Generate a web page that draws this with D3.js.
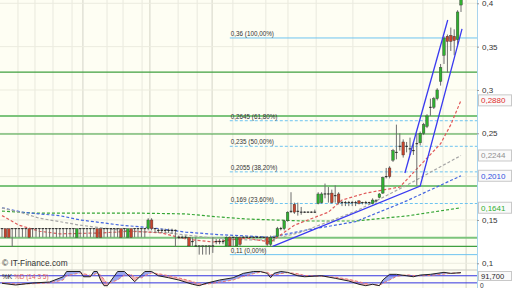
<!DOCTYPE html>
<html lang="fr">
<head>
<meta charset="utf-8">
<script src="https://cdn.jsdelivr.net/npm/d3@7"></script>
<style>
  body { margin: 0; background: #ffffff; }
  svg { display: block; font-family: "Liberation Sans", Arial, sans-serif; }
</style>
</head>
<body>
<div id="chart"></div>
<script>
// daily candles (index = session)
const open = [
  .14,.14,.14,.14,.14,.14,.14,.14,.14,.14,
  .14,.14,.14,.14,.14,.14,.14,.14,.14,.14,
  .14,.14,.13,.14,.14,.14,.14,.14,.14,.14,
  .14,.14,.14,.14,.14,.14,.14,.13,.14,.14,
  .14,.14,.14,.14,.15,.14,.138,.138,.138,.138,
  .138,.138,.13,.13,.13,.13,.125,.12,.12,.12,
  .12,.12,.12,.125,.125,.125,.12,.13,.13,.12,
  .13,.13,.13,.13,.13,.13,.13,.13,.13,.122,
  .13,.131,.14,.14,.149,.16,.168,.16,.159,.159,
  .159,.159,.159,.169,.17,.18,.18,.181,.178,.18,
  .17,.17,.17,.17,.17,.172,.17,.17,.17,.169,
  .172,.176,.181,.2,.21,.219,.228,.235,.24,.235,
  .232,.23,.238,.239,.25,.258,.28,.28,.29,.31,
  .34,.362,.363,.362,.358,.398
];
const close = [
  .14,.13,.13,.14,.14,.14,.14,.14,.13,.14,
  .14,.14,.14,.14,.14,.14,.14,.14,.14,.14,
  .14,.14,.14,.14,.14,.14,.14,.14,.13,.13,
  .14,.14,.14,.14,.14,.13,.14,.14,.13,.14,
  .14,.14,.14,.15,.14,.14,.138,.138,.138,.138,
  .138,.138,.13,.13,.13,.12,.125,.12,.12,.12,
  .12,.12,.12,.125,.125,.125,.13,.12,.13,.13,
  .122,.13,.13,.13,.13,.13,.13,.13,.122,.13,
  .13,.14,.14,.149,.159,.16,.159,.16,.159,.159,
  .159,.159,.159,.18,.18,.18,.18,.17,.178,.17,
  .17,.17,.17,.17,.17,.169,.17,.17,.17,.173,
  .172,.18,.199,.2,.2,.23,.228,.235,.225,.235,
  .232,.23,.238,.25,.26,.27,.28,.29,.30,.326,
  .36,.356,.356,.357,.39,.41
];
const high = [
  .14,.14,.14,.14,.14,.14,.14,.14,.14,.14,
  .14,.14,.14,.14,.14,.14,.14,.14,.14,.14,
  .14,.14,.14,.14,.14,.14,.14,.14,.14,.14,
  .14,.14,.14,.14,.14,.14,.14,.14,.14,.14,
  .14,.14,.14,.152,.152,.14,.14,.14,.14,.14,
  .14,.139,.132,.132,.132,.13,.13,.13,.12,.12,
  .12,.12,.13,.128,.128,.128,.131,.131,.13,.131,
  .131,.131,.131,.131,.131,.131,.131,.131,.131,.132,
  .132,.142,.142,.15,.16,.182,.17,.17,.165,.16,
  .16,.16,.162,.182,.182,.192,.188,.185,.19,.182,
  .172,.172,.172,.172,.172,.173,.171,.172,.171,.175,
  .174,.181,.2,.21,.212,.232,.26,.25,.243,.24,
  .245,.24,.25,.252,.262,.272,.29,.292,.302,.33,
  .362,.364,.372,.37,.392,.415
];
const low = [
  .13,.13,.13,.119,.13,.13,.13,.13,.13,.13,
  .13,.13,.13,.13,.13,.13,.13,.13,.13,.13,
  .13,.13,.13,.13,.13,.13,.13,.13,.13,.13,
  .13,.13,.13,.13,.13,.13,.13,.13,.13,.13,
  .13,.13,.13,.138,.138,.135,.135,.135,.135,.135,
  .134,.119,.128,.128,.128,.119,.12,.119,.11,.11,
  .11,.11,.112,.122,.122,.122,.12,.119,.12,.12,
  .12,.129,.129,.129,.129,.129,.129,.129,.12,.12,
  .125,.13,.138,.138,.148,.158,.157,.155,.156,.158,
  .158,.158,.158,.168,.169,.175,.17,.169,.17,.168,
  .166,.166,.166,.166,.166,.168,.168,.168,.168,.168,
  .17,.175,.18,.198,.198,.217,.22,.23,.222,.228,
  .225,.225,.19,.236,.248,.256,.27,.278,.288,.305,
  .33,.32,.345,.34,.352,.39
];

// moving averages (sparse points: session index / value)
const maRedIdx = [0,5,11,17,29,38,47,54,62,67,72,79,86,96,100,107,117,123,129,132,135];
const maRedVal = [.155,.144,.137,.134,.135,.137,.135,.128,.1246,.127,.129,.1246,.144,.159,.173,.181,.188,.213,.238,.26,.288];
const maGreyIdx = [0,6,11,17,23,29,35,49,60,72,79,88,104,119,135];
const maGreyVal = [.164,.158,.152,.148,.144,.141,.138,.135,.13,.127,.127,.136,.16,.19,.2244];
const maBlueIdx = [0,6,11,17,23,29,35,44,54,64,72,79,89,104,119,135];
const maBlueVal = [.164,.159,.157,.155,.15,.147,.144,.141,.136,.133,.1315,.13,.138,.148,.172,.201];
const maGreenIdx = [0,9,19,38,54,64,72,89,104,119,135];
const maGreenVal = [.1603,.158,.158,.158,.157,.1534,.1511,.1488,.1488,.1546,.1641];

// horizontal supports / resistances
const supports = [.3207, .27, .2492, .1892, .1295, .1196];
const supportWide = [false, true, false, true, true, false];

// fibonacci retracement
const fibVals = [.36, .2645, .235, .2055, .169, .11];
const fibLabels = ["0,36 (100,00%)", "0,2645 (61,80%)", "0,235 (50,00%)", "0,2055 (38,20%)", "0,169 (23,60%)", "0,11 (0,00%)"];
const fibStart = 67;

// trend lines
const trendAIdx = [79.6, 123, 135.3];
const trendAVal = [.1196, .1892, .3705];
const trendBIdx = [118.5, 131.1];
const trendBVal = [.2042, .3807];

// price tags on the right axis
const tagVals = [.288, .2244, .201, .1641];
const tagColors = ["#e03030", "#909090", "#3050e0", "#30b030"];
const yTicks = [.4, .35, .3, .25, .15, .1];

// vertical grid (session index), major ones darker
const gridIdx = [4.7, 9.7, 15, 20.6, 23.8, 30.9, 35.6, 41.2, 43.5, 51.8, 57.4, 61.8, 67.9, 77.6, 84.1, 92.4, 103.2, 113.8, 123.8, 129.7, 136.5];
const gridMajor = [23.8, 43.5, 61.8, 136.5];

// stochastic %K %D (14 3 5)
const stoIdx = [0,4,9,14,18,19,23,24,26,27,28,29,30,31,34,36,38,39,41,42,44,46,49,52,56,58,60,64,68,71,74,76,78,79,80,82,84,87,89,94,98,102,105,107,109,111,112,114,116,119,121,123,126,130,132,135];
const stoK = [17,5,19,26,63,100,100,63,63,100,100,40,0,0,100,100,54,28,75,100,100,70,56,40,10,0,17,40,56,87,100,100,87,56,87,100,94,70,63,70,52,33,10,0,10,0,40,80,80,70,63,75,80,94,87,91.7];
const stoD = [20,12,14,20,40,70,90,85,72,78,88,75,45,15,40,75,80,60,55,70,90,85,70,55,30,12,10,25,40,65,85,95,95,80,75,85,92,85,72,66,60,45,28,15,7,5,15,40,65,77,72,70,72,82,88,90];
const stoLevels = [70, 20];

const width = 512, height = 288;
const plotRight = 477, oscTop = 270;

const svg = d3.select("#chart")
  .append("svg")
  .attr("width", width)
  .attr("height", height);

const x = d3.scaleLinear().domain([0, 135]).range([2, 461]);
const y = d3.scaleLinear().domain([0.1, 0.4]).range([263.3, 3.3]);
const yo = d3.scaleLinear().domain([0, 100]).range([285.7, 271.5]);

const comma = s => s.replace(".", ",");

// backgrounds
svg.append("rect").attr("x", 0).attr("y", 0).attr("width", plotRight).attr("height", height).attr("fill", "#fefef3");
svg.append("rect").attr("x", plotRight).attr("y", 0).attr("width", width - plotRight).attr("height", height).attr("fill", "#ffffff");

svg.append("defs").append("clipPath").attr("id", "plotclip")
  .append("rect").attr("x", 0).attr("y", 0).attr("width", plotRight).attr("height", oscTop - 1);

// grid
svg.append("g").selectAll("line")
  .data(gridIdx)
  .join("line")
  .attr("x1", d => x(d)).attr("x2", d => x(d))
  .attr("y1", 0).attr("y2", height)
  .attr("stroke", d => gridMajor.includes(d) ? "#d4d4c8" : "#e9e9de")
  .attr("stroke-width", 1);

svg.append("g").selectAll("line")
  .data(d3.range(0.1, 0.401, 0.05))
  .join("line")
  .attr("x1", 0).attr("x2", plotRight)
  .attr("y1", d => y(d)).attr("y2", d => y(d))
  .attr("stroke", "#ececdf");

const main = svg.append("g").attr("clip-path", "url(#plotclip)");

// supports
main.selectAll(".sup")
  .data(supports)
  .join("line")
  .attr("x1", 0).attr("x2", plotRight)
  .attr("y1", d => y(d)).attr("y2", d => y(d))
  .attr("stroke", (d, i) => supportWide[i] ? "#7cc47c" : "#3f9f3f")
  .attr("stroke-width", (d, i) => supportWide[i] ? 2 : 1.2);

// fibonacci
main.selectAll(".fib")
  .data(fibVals)
  .join("line")
  .attr("x1", x(fibStart)).attr("x2", plotRight)
  .attr("y1", d => y(d)).attr("y2", d => y(d))
  .attr("stroke", "#6ec4f0")
  .attr("stroke-width", 1)
  .attr("stroke-dasharray", (d, i) => (i === 0 || i === fibVals.length - 1) ? null : "3,2");

main.selectAll(".fibtxt")
  .data(fibVals)
  .join("text")
  .attr("x", x(fibStart) + 1)
  .attr("y", d => y(d) - 2)
  .attr("font-size", "6.3px")
  .attr("fill", "#333")
  .text((d, i) => fibLabels[i]);

// moving averages
const maLine = (idx, val) => d3.line().x((d, i) => x(idx[i])).y((d, i) => y(val[i]))(val);
[[maGreenIdx, maGreenVal, "#36a636"], [maBlueIdx, maBlueVal, "#4466e0"],
 [maGreyIdx, maGreyVal, "#a6a6a6"], [maRedIdx, maRedVal, "#e05a5a"]]
  .forEach(([idx, val, col]) => {
    main.append("path")
      .attr("d", maLine(idx, val))
      .attr("fill", "none")
      .attr("stroke", col)
      .attr("stroke-width", 1.2)
      .attr("stroke-dasharray", "3,2");
  });

// candles
const idx = d3.range(open.length);
const bw = 2.6;
main.append("g").selectAll("line")
  .data(idx)
  .join("line")
  .attr("x1", i => x(i)).attr("x2", i => x(i))
  .attr("y1", i => y(high[i])).attr("y2", i => y(low[i]))
  .attr("stroke", "#6e6e6e")
  .attr("stroke-width", 1);

main.append("g").selectAll("rect")
  .data(idx.filter(i => open[i] !== close[i]))
  .join("rect")
  .attr("x", i => x(i) - bw / 2)
  .attr("y", i => y(Math.max(open[i], close[i])))
  .attr("width", bw)
  .attr("height", i => Math.abs(y(open[i]) - y(close[i])))
  .attr("fill", i => close[i] > open[i] ? "#2fb02f" : "#c8442c")
  .attr("stroke", "#333")
  .attr("stroke-width", 0.4);

main.append("g").selectAll("line")
  .data(idx.filter(i => open[i] === close[i]))
  .join("line")
  .attr("x1", i => x(i) - bw / 2).attr("x2", i => x(i) + bw / 2)
  .attr("y1", i => y(open[i])).attr("y2", i => y(open[i]))
  .attr("stroke", "#222")
  .attr("stroke-width", 1);

// trend lines
[[trendAIdx, trendAVal], [trendBIdx, trendBVal]].forEach(([ti, tv]) => {
  main.append("path")
    .attr("d", d3.line().x((d, i) => x(ti[i])).y((d, i) => y(tv[i]))(tv))
    .attr("fill", "none")
    .attr("stroke", "#3a3af0")
    .attr("stroke-width", 1.3);
});

// watermark
svg.append("text")
  .attr("x", 2).attr("y", 266)
  .attr("font-size", "8.3px")
  .attr("fill", "#333")
  .text("© IT-Finance.com");

// right axis
svg.append("line")
  .attr("x1", plotRight + 0.5).attr("x2", plotRight + 0.5)
  .attr("y1", 0).attr("y2", height)
  .attr("stroke", "#a8d4ee");

const axis = svg.append("g")
  .attr("transform", `translate(${plotRight},0)`)
  .call(d3.axisRight(y).tickValues(yTicks).tickSize(2).tickFormat(d => comma(String(d))));
axis.select(".domain").remove();
axis.selectAll("line").attr("stroke", "#999");
axis.selectAll("text")
  .attr("font-size", "8px")
  .attr("font-family", "Liberation Sans, Arial, sans-serif")
  .attr("fill", "#333");

const tags = svg.append("g").selectAll("g")
  .data(tagVals)
  .join("g")
  .attr("transform", d => `translate(${plotRight + 1},${y(d)})`);
tags.append("rect")
  .attr("x", 0.5).attr("y", -5.5)
  .attr("width", 33).attr("height", 11)
  .attr("fill", "#fafafa")
  .attr("stroke", "#c8c8c8");
tags.append("text")
  .attr("x", 3).attr("y", 3)
  .attr("font-size", "8px")
  .attr("fill", (d, i) => tagColors[i])
  .text(d => comma(d3.format(".4f")(d)));

// oscillator panel
svg.append("line")
  .attr("x1", 0).attr("x2", plotRight)
  .attr("y1", oscTop).attr("y2", oscTop)
  .attr("stroke", "#c8c8c0");

const osc = svg.append("g");
const kLine = d3.line().x((d, i) => x(stoIdx[i])).y(d => yo(d));
const kArea = (ref) => d3.area().x((d, i) => x(stoIdx[i])).y0(ref).y1(d => yo(d));

const defs = svg.select("defs");
defs.append("clipPath").attr("id", "aboveD")
  .append("path").attr("d", kArea(oscTop)(stoD));
defs.append("clipPath").attr("id", "belowD")
  .append("path").attr("d", kArea(height)(stoD));

osc.append("path")
  .attr("d", kArea(height)(stoK))
  .attr("clip-path", "url(#aboveD)")
  .attr("fill", "#9aa6ec");
osc.append("path")
  .attr("d", kArea(oscTop)(stoK))
  .attr("clip-path", "url(#belowD)")
  .attr("fill", "#f2b4b4");

osc.selectAll(".lvl")
  .data(stoLevels)
  .join("line")
  .attr("x1", 0).attr("x2", plotRight)
  .attr("y1", d => yo(d)).attr("y2", d => yo(d))
  .attr("stroke", "#3434e0")
  .attr("stroke-width", 1);

osc.append("path")
  .attr("d", kLine(stoD))
  .attr("fill", "none")
  .attr("stroke", "#e87878")
  .attr("stroke-width", 1)
  .attr("stroke-dasharray", "3,2");
osc.append("path")
  .attr("d", kLine(stoK))
  .attr("fill", "none")
  .attr("stroke", "#222")
  .attr("stroke-width", 1);

const oscLabel = svg.append("text")
  .attr("x", 2).attr("y", 278.5)
  .attr("font-size", "6.5px");
oscLabel.append("tspan").attr("fill", "#222").text("%K ");
oscLabel.append("tspan").attr("fill", "#e06060").text("%D (14 3 5)");

const lastK = stoK[stoK.length - 1];
const kTag = svg.append("g")
  .attr("transform", `translate(${plotRight + 1},${Math.max(yo(lastK), 276)})`);
kTag.append("rect")
  .attr("x", 0.5).attr("y", -4.5)
  .attr("width", 33).attr("height", 9)
  .attr("fill", "#fafafa")
  .attr("stroke", "#c8c8c8");
kTag.append("text")
  .attr("x", 3).attr("y", 2.8)
  .attr("font-size", "7.6px")
  .attr("fill", "#222")
  .text(comma(d3.format(".3f")(lastK)));

svg.append("text")
  .attr("x", plotRight + 3).attr("y", 287.6)
  .attr("font-size", "6.6px")
  .attr("fill", "#333")
  .text("0");
</script>
</body>
</html>
